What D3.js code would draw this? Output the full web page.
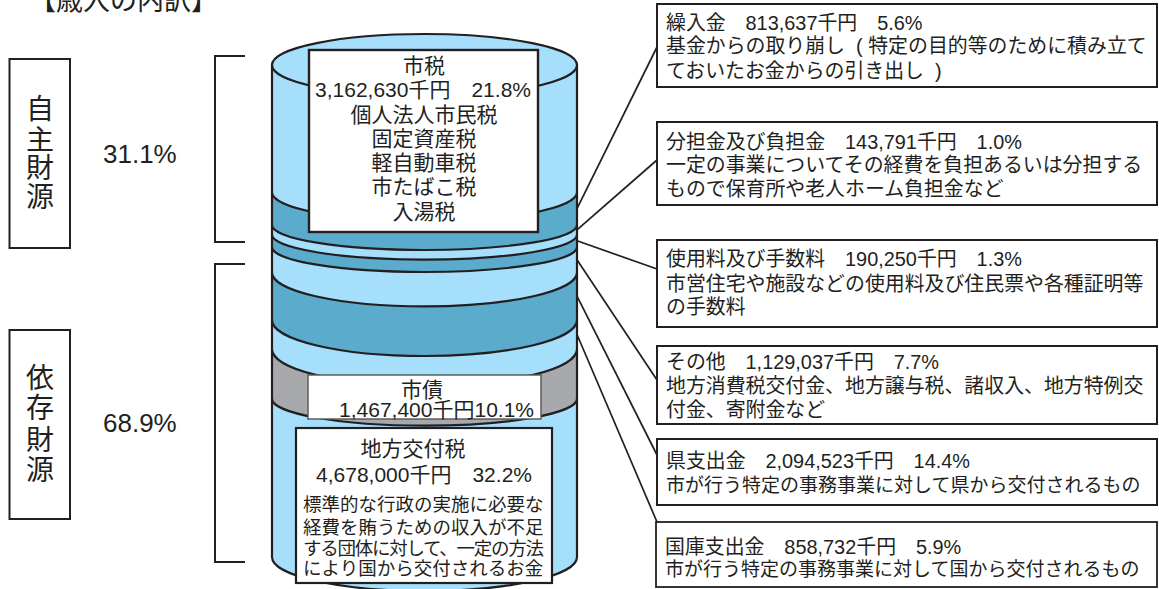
<!DOCTYPE html>
<html lang="ja">
<head>
<meta charset="utf-8">
<script src="https://cdn.jsdelivr.net/npm/d3@7"></script>
<style>
  html, body { margin: 0; background: #fff; }
  text { font-family: "Liberation Sans", "Noto Sans CJK JP", sans-serif; fill: #231f20; white-space: pre; }
</style>
</head>
<body>
<script>
// revenue breakdown, top of the cylinder to the bottom
const categories = ['市税', '繰入金', '分担金及び負担金', '使用料及び手数料', 'その他', '県支出金', '国庫支出金', '市債', '地方交付税'];
const amounts = [3162630, 813637, 143791, 190250, 1129037, 2094523, 858732, 1467400, 4678000];
const shares = [21.8, 5.6, 1.0, 1.3, 7.7, 14.4, 5.9, 10.1, 32.2];
const bandKinds = ['light', 'dark', 'light', 'dark', 'light', 'dark', 'light', 'grey', 'light'];

const title = '【歳入の内訳】';
const groups = ['自主財源', '依存財源'];
const groupShares = ['31.1%', '68.9%'];

const calloutNames = ['繰入金', '分担金及び負担金', '使用料及び手数料', 'その他', '県支出金', '国庫支出金'];
const calloutNotes = [
  ['基金からの取り崩し  ( 特定の目的等のために積み立て', 'ておいたお金からの引き出し  )'],
  ['一定の事業についてその経費を負担あるいは分担する', 'もので保育所や老人ホーム負担金など'],
  ['市営住宅や施設などの使用料及び住民票や各種証明等', 'の手数料'],
  ['地方消費税交付金、地方譲与税、諸収入、地方特例交', '付金、寄附金など'],
  ['市が行う特定の事務事業に対して県から交付されるもの'],
  ['市が行う特定の事務事業に対して国から交付されるもの'],
];
const cityTaxItems = ['個人法人市民税', '固定資産税', '軽自動車税', '市たばこ税', '入湯税'];
const grantNote = ['標準的な行政の実施に必要な', '経費を賄うための収入が不足', 'する団体に対して、一定の方法', 'により国から交付されるお金'];

const w = 1159, h = 589;
const ink = '#231f20';
const svg = d3.select('body').append('svg').attr('width', w).attr('height', h).style('display', 'block');

const fmt = d3.format(',');
const pct = v => v.toFixed(1) + '%';
const amountLabel = i => fmt(amounts[i]) + '千円';

// the cylinder in the source is not drawn to scale, so the y scale is piecewise
const y = d3.scaleLinear().domain([0, 27.4, 29.7, 51.8, 100]).range([65, 225, 247, 320, 557]);
const x = d3.scaleLinear().domain([-1, 1]).range([272, 577]);
const fill = d3.scaleOrdinal().domain(['light', 'dark', 'grey']).range(['#a6dffb', '#5aabcc', '#a7a9ac']);

const ends = Array.from(d3.cumsum(shares));
const bands = categories.map((name, i) => ({ name, i, y0: y(i ? ends[i - 1] : 0), y1: y(ends[i]), mid: y(ends[i] - shares[i] / 2) }));
const sag = [29, 25, 25, 25, 34, 36, 37, 27, 34]; // how far each lower edge bows down
const rx = (x(1) - x(-1)) / 2;

// paint bottom band first so each band's bulge sits on the one below
svg.append('g').selectAll('path')
  .data(bands.slice().reverse())
  .join('path')
    .attr('d', d => `M${x(-1)},${d.y0}L${x(-1)},${d.y1}A${rx},${sag[d.i]} 0 0 0 ${x(1)},${d.y1}L${x(1)},${d.y0}`)
    .attr('fill', d => fill(bandKinds[d.i]))
    .attr('stroke', ink)
    .attr('stroke-width', 2.2);

svg.append('ellipse')
  .attr('cx', x(0)).attr('cy', y(0)).attr('rx', rx).attr('ry', 31)
  .attr('fill', fill('light')).attr('stroke', ink).attr('stroke-width', 2.2);

function label(str, px, cy, size, anchor) {
  return svg.append('text')
    .attr('x', px).attr('y', cy + size * 0.36)
    .attr('font-size', size)
    .attr('text-anchor', anchor || 'start')
    .text(str);
}
function box(x0, y0, x1, y1, sw, stroke) {
  svg.append('rect')
    .attr('x', x0).attr('y', y0).attr('width', x1 - x0).attr('height', y1 - y0)
    .attr('fill', '#fff').attr('stroke', stroke || ink).attr('stroke-width', sw);
}

// leader lines, from the middle of a band to its callout
const calloutLayout = [
  { y0: 4, y1: 87, hit: 47, lines: [23, 46, 71] },
  { y0: 122, y1: 205, hit: 160, lines: [142, 165, 189] },
  { y0: 240, y1: 327, hit: 269, lines: [259, 284, 307] },
  { y0: 346, y1: 424, hit: 380, lines: [362, 386, 410] },
  { y0: 439, y1: 505, hit: 455, lines: [461, 485] },
  { y0: 522, y1: 587, hit: 522, lines: [547, 569] },
];
svg.append('g').selectAll('line')
  .data(calloutNames)
  .join('line')
    .attr('x1', x(1))
    .attr('y1', name => bands[categories.indexOf(name)].mid)
    .attr('x2', 657)
    .attr('y2', (name, i) => calloutLayout[i].hit)
    .attr('stroke', ink).attr('stroke-width', 1.7);

calloutNames.forEach((name, k) => {
  const c = calloutLayout[k], i = categories.indexOf(name);
  box(k === 5 ? 656 : 657, c.y0, 1157, c.y1, k === 5 ? 1.8 : 2);
  const tx = k === 5 ? 665 : 666;
  label(`${name}　${amountLabel(i)}　${pct(shares[i])}`, tx, c.lines[0], 19.9);
  // the two single-line notes run longer, so they are set a little smaller
  calloutNotes[k].forEach((line, j) => label(line, tx, c.lines[j + 1], k >= 4 ? 19 : 19.9));
});

// boxes sitting on the cylinder
box(309, 50, 538, 232, 2.4);
label(categories[0], 424, 65, 21, 'middle');
label(`${amountLabel(0)}　${pct(shares[0])}`, 423, 89, 21, 'middle');
cityTaxItems.forEach((t, j) => label(t, 424, [114, 138, 162, 186, 211][j], 21, 'middle'));

box(308, 375, 541, 419, 1.4, '#555');
label(categories[7], 422, 389, 21, 'middle');
label(amountLabel(7) + pct(shares[7]), 534, 409, 21, 'end');

box(296, 428, 552, 583, 2.2);
label(categories[8], 413, 448, 21, 'middle');
label(`${amountLabel(8)}　${pct(shares[8])}`, 424, 474, 21, 'middle');
grantNote.forEach((t, j) => {
  const line = label(t, 303, [504, 527, 548, 568][j], 18.5);
  if (j === 2) line.attr('textLength', 241); // squeezed to stay inside the box
});

// left side: title, source groups and brackets
label(title, 29, 0.6, 27);
const groupLayout = [
  { y0: 59, y1: 248, chars: [109, 140, 168, 197], share: 154, top: 56, bottom: 242 },
  { y0: 330, y1: 519, chars: [378, 408, 440, 470], share: 423, top: 264, bottom: 562 },
];
groups.forEach((g, k) => {
  const l = groupLayout[k];
  box(9.5, l.y0, 70, l.y1, 2);
  Array.from(g).forEach((ch, j) => label(ch, 40, l.chars[j], 28, 'middle'));
  label(groupShares[k], 103, l.share, 26);
  svg.append('path')
    .attr('d', d3.line()([[245, l.top], [215, l.top], [215, l.bottom], [245, l.bottom]]))
    .attr('fill', 'none').attr('stroke', ink).attr('stroke-width', 2);
});
</script>
</body>
</html>
